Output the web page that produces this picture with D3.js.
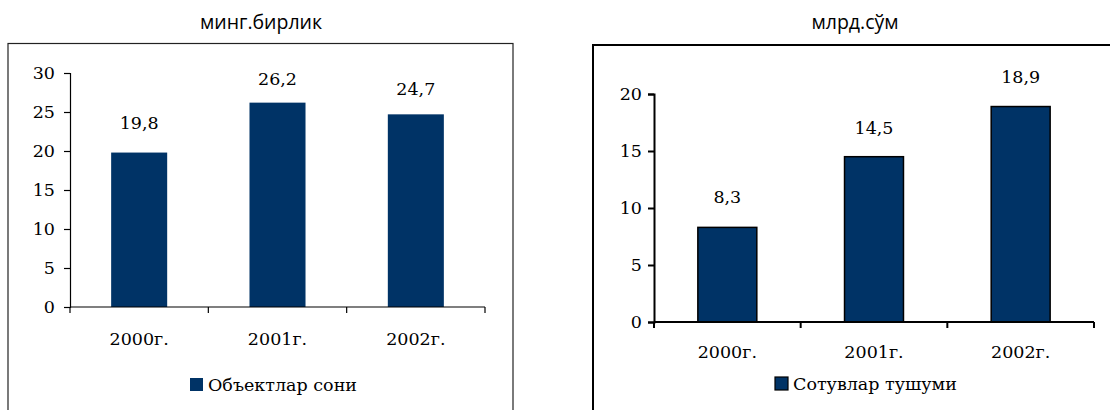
<!DOCTYPE html>
<html><head><meta charset="utf-8">
<script src="https://cdn.jsdelivr.net/npm/d3@7"></script>
<style>
body{margin:0;background:#fff;}
svg{display:block;}
</style></head>
<body>
<svg id="c" width="1110" height="410"></svg>
<script>
const categories = ["2000г.", "2001г.", "2002г."];
const objectsValues = [19.8, 26.2, 24.7];
const salesValues = [8.3, 14.5, 18.9];
const objectsTicks = [0, 5, 10, 15, 20, 25, 30];
const salesTicks = [0, 5, 10, 15, 20];
const objectsUnit = "минг.бирлик";
const salesUnit = "млрд.сўм";
const objectsLegend = "Объектлар сони";
const salesLegend = "Сотувлар тушуми";

const NAVY = "#003366";
const SERIF = "'DejaVu Serif', serif";
const SANS = "'Open Sans', 'Liberation Sans', Arial, sans-serif";
const FS = "17.5px";
const svg = d3.select("#c");

function fmt(v){ return String(v).replace(".", ","); }

function drawChart(cfg){
  const g = svg.append("g");
  // frame
  g.append("rect").attr("x", cfg.frame[0]).attr("y", cfg.frame[1])
    .attr("width", cfg.frame[2]).attr("height", cfg.frame[3])
    .attr("fill", "none").attr("stroke", cfg.frameColor).attr("stroke-width", cfg.frameW);
  // unit title
  g.append("text").attr("x", cfg.titleX).attr("y", 29).attr("text-anchor", "middle")
    .style("font-family", SANS).style("font-size", "19.5px").attr("fill", "#000").text(cfg.unit);

  const y = d3.scaleLinear().domain([0, d3.max(cfg.ticks)]).range(cfg.yRange);
  const x = d3.scaleBand().domain(categories).range(cfg.xRange)
    .paddingInner(cfg.pad).paddingOuter(cfg.pad/2);

  // bars
  g.selectAll("rect.bar").data(cfg.values).join("rect").attr("class","bar")
    .attr("x", (d,i)=>x(categories[i])).attr("width", x.bandwidth())
    .attr("y", d=>y(d)).attr("height", d=>y(0)-y(d))
    .attr("fill", NAVY)
    .attr("stroke", cfg.barStroke ? "#000" : "none").attr("stroke-width", cfg.barStroke ? 1.5 : 0);

  // y axis
  const ya = g.append("g").attr("transform", `translate(${cfg.xRange[0]},0)`)
    .call(d3.axisLeft(y).tickValues(cfg.ticks).tickSize(6).tickPadding(cfg.tickPad).tickFormat(d=>d));
  ya.select(".domain").attr("stroke", "#000").attr("stroke-width", cfg.axisW);
  ya.selectAll(".tick line").attr("stroke", "#000").attr("stroke-width", cfg.axisW);
  ya.selectAll(".tick text").style("font-family", SERIF).style("font-size", FS).attr("fill", "#000");

  // x axis line with boundary ticks
  const x0 = cfg.xRange[0], x1 = cfg.xRange[1], y0 = y(0);
  g.append("line").attr("x1", x0).attr("x2", x1).attr("y1", y0).attr("y2", y0)
    .attr("stroke", "#000").attr("stroke-width", cfg.axisW);
  const bounds = d3.range(categories.length + 1).map(i => x0 + i * x.step());
  g.selectAll("line.xt").data(bounds).join("line").attr("class","xt")
    .attr("x1", d=>d).attr("x2", d=>d).attr("y1", y0).attr("y2", y0 + 6)
    .attr("stroke", "#000").attr("stroke-width", cfg.axisW);
  g.selectAll("text.xl").data(categories).join("text").attr("class","xl")
    .attr("x", d=>x(d) + x.bandwidth()/2).attr("y", cfg.catY).attr("text-anchor","middle")
    .style("font-family", SERIF).style("font-size", FS).attr("fill", "#000").text(d=>d);

  // data labels
  g.selectAll("text.dl").data(cfg.values).join("text").attr("class","dl")
    .attr("x", (d,i)=>x(categories[i]) + x.bandwidth()/2)
    .attr("y", (d,i)=>y(d) - cfg.labelOff[i]).attr("text-anchor","middle")
    .style("font-family", SERIF).style("font-size", FS).attr("fill", "#000").text(fmt);

  // legend
  g.append("rect").attr("x", cfg.legX).attr("y", cfg.legY).attr("width", 13).attr("height", 13)
    .attr("fill", NAVY).attr("stroke", cfg.barStroke ? "#000" : "none").attr("stroke-width", 1.2);
  g.append("text").attr("x", cfg.legX + 18).attr("y", cfg.legY + 13)
    .style("font-family", SERIF).style("font-size", FS).attr("fill", "#000").text(cfg.legend);
}

drawChart({
  frame:[8, 43.5, 505, 380], frameColor:"#222", frameW:1.2,
  titleX:261, unit:objectsUnit, ticks:objectsTicks, values:objectsValues,
  yRange:[307, 73], xRange:[70, 485], pad:0.595, barStroke:false, axisW:1.2, tickPad:9,
  catY:345, labelOff:[24, 18, 19], legX:190, legY:378, legend:objectsLegend
});
drawChart({
  frame:[593, 45, 540, 380], frameColor:"#000", frameW:2,
  titleX:855, unit:salesUnit, ticks:salesTicks, values:salesValues,
  yRange:[322, 94], xRange:[654, 1094], pad:0.598, barStroke:true, axisW:2, tickPad:6,
  catY:358, labelOff:[24, 23, 24], legX:775, legY:377, legend:salesLegend
});
</script>
</body></html>
